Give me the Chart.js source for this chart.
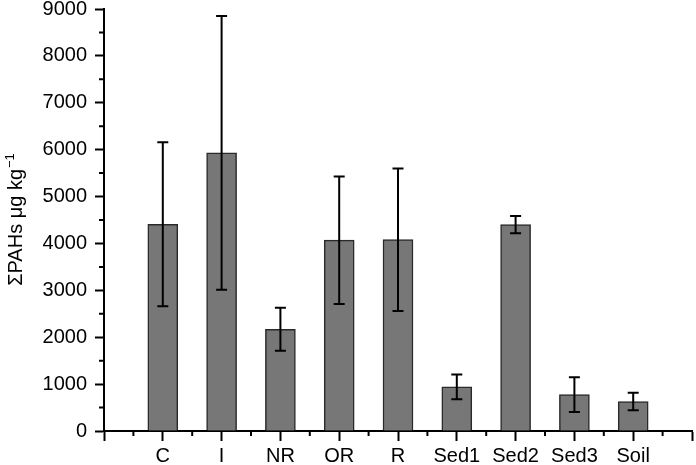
<!DOCTYPE html>
<html>
<head>
<meta charset="utf-8">
<script src="https://cdn.jsdelivr.net/npm/chart.js@4.4.1/dist/chart.umd.min.js"></script>
<style>
  html, body { margin: 0; padding: 0; background: #fff; }
  #wrap { width: 696px; height: 465px; }
</style>
</head>
<body>
<div id="wrap"><canvas id="canvas"></canvas></div>
<script>
// sites and their mean PAH sum with the error (+/-)
var categories = ['C', 'I', 'NR', 'OR', 'R', 'Sed1', 'Sed2', 'Sed3', 'Soil'];
var means = [4410, 5930, 2170, 4070, 4080, 940, 4400, 775, 630];
var errors = [1750, 2920, 460, 1360, 1520, 265, 185, 370, 185];
var yTicks = [0, 1000, 2000, 3000, 4000, 5000, 6000, 7000, 8000, 9000];

var FONT = "'Liberation Sans', Arial, Helvetica, sans-serif";

// error bars, drawn with the scales
var errorBars = {
    id: 'errorBars',
    afterDatasetsDraw: function (chart) {
        var ctx = chart.ctx;
        var xs = chart.scales.x, ys = chart.scales.y;
        ctx.save();
        ctx.strokeStyle = '#000';
        ctx.lineWidth = 2;
        for (var i = 0; i < means.length; i++) {
            var x = xs.getPixelForValue(i);
            var top = ys.getPixelForValue(means[i] + errors[i]);
            var bot = ys.getPixelForValue(means[i] - errors[i]);
            ctx.beginPath();
            ctx.moveTo(x, top); ctx.lineTo(x, bot);
            ctx.moveTo(x - 5.5, top); ctx.lineTo(x + 5.5, top);
            ctx.moveTo(x - 5.5, bot); ctx.lineTo(x + 5.5, bot);
            ctx.stroke();
        }
        ctx.restore();
    }
};

// minor ticks + the y title with its superscript
var axisExtras = {
    id: 'axisExtras',
    afterDraw: function (chart) {
        var ctx = chart.ctx;
        var xs = chart.scales.x, ys = chart.scales.y;
        ctx.save();
        ctx.strokeStyle = '#000';
        ctx.lineWidth = 2;
        ctx.beginPath();
        for (var v = -0.5; v < 9; v += 1) {
            var px = xs.getPixelForValue(v);
            ctx.moveTo(px, xs.top); ctx.lineTo(px, xs.top + 5);
        }
        for (var w = 500; w < 9000; w += 1000) {
            var py = ys.getPixelForValue(w);
            ctx.moveTo(ys.right, py); ctx.lineTo(ys.right - 5, py);
        }
        ctx.stroke();

        // y title
        var main = 'ΣPAHs μg kg', sup = '−1';
        ctx.fillStyle = '#000';
        ctx.font = '20px ' + FONT;
        var wMain = ctx.measureText(main).width;
        ctx.font = '13px ' + FONT;
        var wSup = ctx.measureText(sup).width;
        var cy = (chart.chartArea.top + chart.chartArea.bottom) / 2;
        ctx.translate(22, cy);
        ctx.rotate(-Math.PI / 2);
        ctx.textBaseline = 'alphabetic';
        var start = -(wMain + wSup) / 2;
        ctx.font = '20px ' + FONT;
        ctx.fillText(main, start, 0);
        ctx.font = '13px ' + FONT;
        ctx.fillText(sup, start + wMain + 1, -8);
        ctx.restore();
    }
};

var ctx = document.getElementById('canvas').getContext('2d');
new Chart(ctx, {
    type: 'bar',
    data: {
        datasets: [{
            data: means.map(function (m, i) { return { x: i, y: m }; }),
            backgroundColor: '#777777',
            borderColor: '#2a2a2a',
            borderWidth: 1.5,
            barThickness: 30
        }]
    },
    options: {
        responsive: true,
        maintainAspectRatio: false,
        animation: false,
        layout: { padding: { top: 9, right: 4, left: 0, bottom: 0 } },
        plugins: {
            legend: { display: false },
            tooltip: { enabled: false }
        },
        scales: {
            x: {
                type: 'linear',
                min: -1,
                max: 9,
                offset: false,
                grid: { display: true, drawOnChartArea: false, offset: false, color: '#000', tickLength: 10, tickWidth: 2 },
                border: { color: '#000', width: 2 },
                ticks: {
                    stepSize: 1,
                    autoSkip: false,
                    maxRotation: 0,
                    padding: 3,
                    color: '#000',
                    font: { family: FONT, size: 20 },
                    callback: function (v) { return categories[v] !== undefined ? categories[v] : ''; }
                },
                afterFit: function (scale) { scale.height = 34; scale.paddingLeft = 0; scale.paddingRight = 0; }
            },
            y: {
                min: 0,
                max: 9000,
                grid: { display: true, drawOnChartArea: false, color: '#000', tickLength: 9, tickWidth: 2 },
                border: { color: '#000', width: 2 },
                ticks: {
                    stepSize: 1000,
                    padding: 8,
                    color: '#000',
                    font: { family: FONT, size: 20 },
                    callback: function (v) { return yTicks.indexOf(v) >= 0 ? String(v) : ''; }
                },
                afterFit: function (scale) { scale.width = 104; scale.paddingTop = 0; scale.paddingBottom = 0; }
            }
        }
    },
    plugins: [errorBars, axisExtras]
});
</script>
</body>
</html>
